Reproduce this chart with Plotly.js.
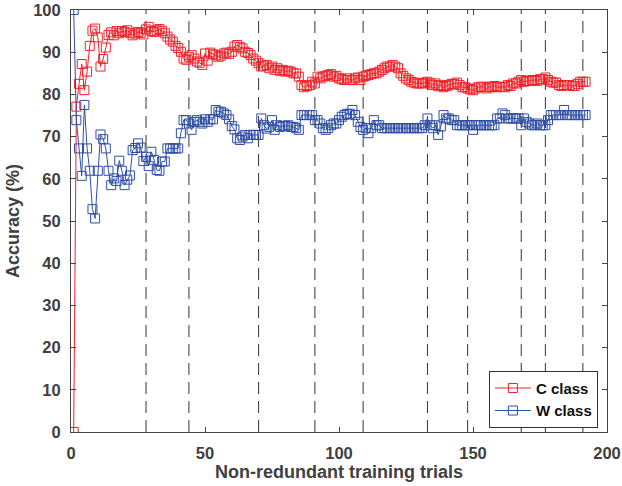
<!DOCTYPE html>
<html>
<head>
<meta charset="utf-8">
<script src="https://cdn.plot.ly/plotly-3.0.1.min.js"></script>
<style>html,body{margin:0;padding:0;background:#fff;overflow:hidden;}#chart{width:622px;height:486px;}</style>
</head>
<body>
<div id="chart"></div>
<script>
// Accuracy (%) per non-redundant training trial, trials 1..192
var cClass = [
  0, 77.1, 82.5, 87.2, 81.0, 85.4, 91.5, 95.1, 95.6, 93.5,
  86.6, 88.4, 91.1, 94.1, 94.7, 94.0, 95.0, 94.5, 95.0, 94.8,
  95.2, 94.6, 94.0, 94.4, 94.8, 94.6, 94.2, 95.4, 96.0, 95.0,
  94.8, 95.2, 95.5, 95.0, 94.5, 93.7, 93.0, 92.5, 91.5, 91.0,
  90.1, 88.5, 88.2, 88.9, 89.3, 88.5, 87.8, 87.5, 87.0, 89.7,
  88.0, 89.9, 89.5, 89.3, 88.9, 89.2, 89.7, 89.9, 89.6, 90.1,
  91.3, 91.7, 91.2, 90.9, 90.1, 89.8, 89.3, 88.5, 88.0, 87.4,
  86.6, 86.8, 87.0, 86.2, 86.6, 85.8, 86.2, 85.6, 85.8, 85.4,
  85.6, 85.4, 85.0, 85.0, 84.2, 82.2, 81.7, 82.0, 82.2, 83.0,
  82.6, 84.2, 83.8, 84.2, 84.4, 84.6, 84.8, 84.2, 84.4, 83.8,
  83.6, 83.4, 83.8, 83.4, 83.4, 83.8, 84.0, 83.4, 84.2, 84.4,
  84.6, 84.8, 85.0, 85.0, 85.4, 85.8, 86.2, 86.6, 86.6, 87.0,
  86.6, 86.2, 85.0, 84.4, 83.8, 83.4, 83.0, 82.8, 82.6, 82.6,
  82.6, 82.8, 83.0, 82.6, 82.2, 82.6, 82.0, 82.2, 81.7, 82.0,
  82.2, 82.5, 82.5, 82.8, 82.2, 81.7, 81.7, 81.4, 81.2, 81.0,
  81.4, 81.7, 81.8, 81.8, 81.4, 81.8, 81.7, 82.0, 81.7, 81.8,
  81.8, 81.7, 82.2, 82.0, 82.6, 82.6, 83.0, 83.4, 83.0, 83.2,
  83.2, 83.4, 83.4, 83.2, 83.6, 83.6, 84.0, 83.4, 83.0, 82.8,
  82.8, 82.2, 82.0, 82.2, 82.2, 82.2, 82.0, 82.0, 82.5, 83.0,
  83.0, 83.0
];
var wClass = [
  100, 73.9, 67.2, 60.7, 77.5, 67.2, 61.9, 52.8, 50.6, 61.9,
  70.5, 69.4, 67.2, 61.9, 58.5, 60.1, 59.5, 64.3, 61.9, 58.5,
  59.8, 60.8, 66.8, 67.3, 68.4, 67.4, 64.2, 65.2, 63.0, 66.4,
  64.5, 62.1, 61.9, 64.1, 64.1, 67.2, 67.2, 67.2, 67.2, 67.2,
  70.8, 73.9, 73.9, 73.1, 71.6, 73.5, 73.9, 73.5, 73.1, 74.1,
  73.5, 74.1, 74.1, 76.3, 75.9, 75.9, 75.5, 75.1, 74.1, 72.5,
  71.7, 69.6, 69.2, 70.0, 70.4, 69.6, 70.4, 70.4, 70.4, 70.4,
  74.3, 72.7, 71.9, 72.3, 73.9, 71.6, 72.7, 72.3, 72.5, 72.5,
  72.7, 72.3, 72.3, 72.0, 71.6, 75.1, 75.1, 75.1, 75.1, 75.1,
  73.9, 73.9, 73.1, 72.0, 71.6, 72.0, 72.7, 73.1, 73.1, 73.9,
  74.7, 75.1, 75.4, 75.4, 76.3, 75.1, 73.5, 72.3, 71.6, 72.0,
  70.8, 72.0, 73.9, 72.7, 72.7, 72.0, 72.0, 72.0, 72.0, 72.0,
  72.0, 72.0, 72.0, 72.0, 72.0, 72.0, 72.0, 72.0, 72.0, 72.0,
  72.0, 72.7, 74.3, 72.7, 72.0, 72.7, 70.4, 72.4, 75.1, 74.3,
  74.3, 73.9, 73.9, 72.7, 72.7, 72.7, 72.7, 72.7, 72.7, 71.6,
  72.7, 72.7, 72.7, 72.7, 72.7, 72.7, 72.7, 72.7, 74.3, 74.3,
  75.5, 75.1, 74.3, 74.3, 74.3, 74.3, 74.3, 72.7, 74.3, 73.5,
  73.1, 72.7, 72.7, 73.1, 72.7, 72.7, 72.7, 73.9, 75.1, 75.1,
  75.1, 75.1, 75.1, 76.3, 75.1, 75.1, 75.1, 75.1, 75.1, 75.1,
  75.1, 75.1
];
var seriesNames = ['C class', 'W class'];
var boundaries = [28, 44, 70, 91, 109, 133, 148, 168, 177, 191];
var xTicks = [0, 50, 100, 150, 200];
var yTicks = [0, 10, 20, 30, 40, 50, 60, 70, 80, 90, 100];

var FONT = 'Liberation Sans, Arial, Helvetica, sans-serif';
var TXT = '#404040';

var traces = [
  {
    y: cClass, x0: 1, dx: 1, name: seriesNames[0], mode: 'lines+markers',
    line: {color: '#f0222a', width: 1},
    marker: {symbol: 'square-open', size: 9, color: '#f0222a', line: {width: 1}}
  },
  {
    y: wClass, x0: 1, dx: 1, name: seriesNames[1], mode: 'lines+markers',
    line: {color: '#2f4ea6', width: 1},
    marker: {symbol: 'square-open', size: 9, color: '#2f4ea6', line: {width: 1}}
  }
];

var shapes = boundaries.map(function (b) {
  return {
    type: 'line', xref: 'x', yref: 'y', x0: b, x1: b, y0: 0, y1: 100,
    line: {color: '#333333', width: 1, dash: '12px,7px'}, layer: 'below'
  };
});

var axisCommon = {
  showgrid: false, zeroline: false, showline: true, linecolor: '#444444', linewidth: 1,
  mirror: 'ticks', ticks: 'inside', ticklen: 5, tickwidth: 1, tickcolor: '#444444',
  ticklabeloverflow: 'allow',
  tickfont: {family: FONT, size: 16.5, color: TXT, weight: 'bold'}
};

var layout = {
  width: 622, height: 486,
  margin: {l: 71, r: 15, t: 10, b: 54},
  paper_bgcolor: '#ffffff', plot_bgcolor: '#ffffff',
  showlegend: true,
  shapes: shapes,
  xaxis: Object.assign({}, axisCommon, {
    range: [0, 200], tickmode: 'array', tickvals: xTicks, ticktext: xTicks.map(String),
    ticklabelstandoff: 6,
    title: {text: 'Non-redundant training trials', font: {family: FONT, size: 18, color: TXT, weight: 'bold'}, standoff: 4}
  }),
  yaxis: Object.assign({}, axisCommon, {
    range: [0, 100], tickmode: 'array', tickvals: yTicks, ticktext: yTicks.map(String),
    ticklabelstandoff: 6,
    title: {text: 'Accuracy (%)', font: {family: FONT, size: 18, color: TXT, weight: 'bold'}, standoff: 8}
  }),
  legend: {
    x: 0.983, y: 0.01, xanchor: 'right', yanchor: 'bottom',
    bgcolor: '#ffffff', bordercolor: '#333333', borderwidth: 1,
    font: {family: FONT, size: 15, color: '#111111', weight: 'bold'},
    tracegroupgap: 0, itemwidth: 36
  }
};

Plotly.newPlot('chart', traces, layout, {displayModeBar: false, staticPlot: true});
</script>
</body>
</html>
